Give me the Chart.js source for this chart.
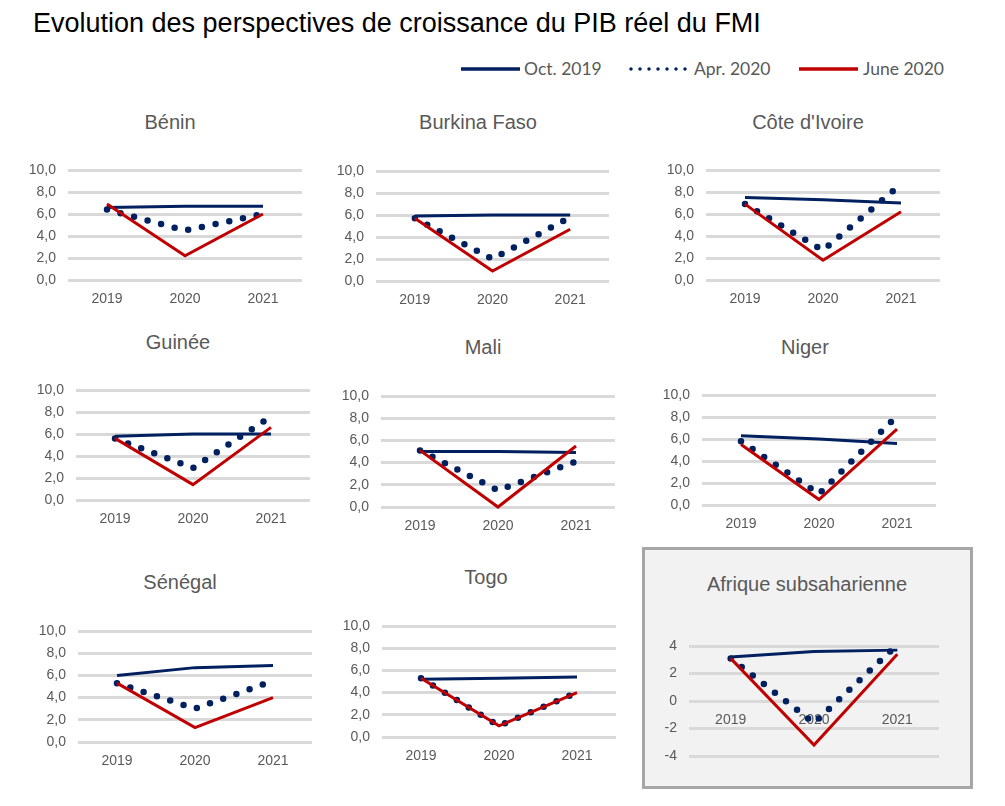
<!DOCTYPE html>
<html>
<head>
<meta charset="utf-8">
<title>Evolution des perspectives de croissance du PIB réel du FMI</title>
<script src="https://cdn.jsdelivr.net/npm/chart.js@4.4.1/dist/chart.umd.min.js"></script>
<style>
  body {
    margin: 0;
    width: 1005px;
    height: 806px;
    position: relative;
    overflow: hidden;
    background: #fff;
    font-family: 'Liberation Sans', Arial, sans-serif;
  }
  #main-title {
    position: absolute;
    left: 33px;
    top: 10px;
    font-size: 27px;
    line-height: 27px;
    color: #000;
    white-space: nowrap;
  }
  .legend-text {
    position: absolute;
    top: 59px;
    line-height: 20px;
    font-family: Lato, 'Open Sans', sans-serif;
    font-size: 17.5px;
    color: #595959;
    white-space: nowrap;
  }
  .legend-line {
    position: absolute;
    top: 62px;
  }
  .panel-title {
    position: absolute;
    font-size: 20px;
    line-height: 24px;
    color: #595959;
    white-space: nowrap;
    transform: translateX(-50%);
  }
  #ssa-box {
    position: absolute;
    left: 642px;
    top: 547px;
    width: 331px;
    height: 242px;
    box-sizing: border-box;
    border: 3px solid #a6a6a6;
    background: #f2f2f2;
  }
  canvas {
    position: absolute;
  }
</style>
</head>
<body>
<div id="main-title">Evolution des perspectives de croissance du PIB réel du FMI</div>

<svg class="legend-line" style="left:460px" width="62" height="14"><line x1="1" y1="7" x2="60" y2="7" stroke="#002060" stroke-width="3.5" /></svg>
<div class="legend-text" style="left:524px">Oct. 2019</div>
<svg class="legend-line" style="left:628px" width="62" height="14"><line x1="3" y1="7" x2="58" y2="7" stroke="#002060" stroke-width="3.5" stroke-linecap="round" stroke-dasharray="0 9" /></svg>
<div class="legend-text" style="left:694px">Apr. 2020</div>
<svg class="legend-line" style="left:799px" width="62" height="14"><line x1="0" y1="7" x2="59" y2="7" stroke="#c00000" stroke-width="3.5" /></svg>
<div class="legend-text" style="left:863px">June 2020</div>

<div id="ssa-box"></div>

<script>
// Real GDP growth forecasts (%), one row per panel
const years = ['2019', '2020', '2021'];
const countries = ['Bénin', 'Burkina Faso', "Côte d'Ivoire", 'Guinée', 'Mali', 'Niger', 'Sénégal', 'Togo', 'Afrique subsaharienne'];
const seriesNames = ['Oct. 2019', 'Apr. 2020', 'June 2020'];

const oct2019 = [
  [6.6, 6.7, 6.7],
  [5.9, 6.0, 6.0],
  [7.5, 7.3, 7.0],
  [5.8, 6.0, 6.0],
  [5.0, 5.0, 4.9],
  [6.3, 6.0, 5.6],
  [6.0, 6.7, 6.9],
  [5.2, 5.3, 5.4],
  [3.2, 3.6, 3.7]
];
const apr2020 = [
  [6.4, 4.5, 6.0],
  [5.7, 2.0, 5.8],
  [6.9, 2.7, 8.7],
  [5.6, 2.9, 7.6],
  [5.1, 1.5, 4.1],
  [5.8, 1.0, 8.1],
  [5.3, 3.0, 5.5],
  [5.3, 1.0, 4.0],
  [3.1, -1.6, 4.1]
];
const june2020 = [
  [6.9, 2.2, 6.0],
  [5.7, 0.9, 4.7],
  [6.9, 1.8, 6.2],
  [5.6, 1.4, 6.6],
  [5.1, 0.0, 5.5],
  [5.5, 0.5, 6.9],
  [5.3, 1.3, 4.0],
  [5.3, 1.0, 4.0],
  [3.1, -3.2, 3.4]
];
const countryScale = [0, 10];
const ssaScale = [-4, 4];

// plot-area box and title centre of each panel, in page pixels
const boxes = [
  { x0: 68,  x1: 302, top: 170, bottom: 280, tx: 170, ty: 122 },
  { x0: 376, x1: 609, top: 171, bottom: 281, tx: 478, ty: 122 },
  { x0: 706, x1: 940, top: 170, bottom: 280, tx: 808, ty: 122 },
  { x0: 76,  x1: 310, top: 390, bottom: 500, tx: 178, ty: 342 },
  { x0: 381, x1: 615, top: 396, bottom: 507, tx: 483, ty: 347 },
  { x0: 702, x1: 936, top: 395, bottom: 505, tx: 805, ty: 347 },
  { x0: 78,  x1: 312, top: 631, bottom: 742, tx: 180, ty: 582 },
  { x0: 382, x1: 616, top: 626, bottom: 737, tx: 486, ty: 577 },
  { x0: 689, x1: 939, top: 646, bottom: 756, tx: 807, ty: 584 }
];

Chart.defaults.font.family = "'Liberation Sans', Arial, sans-serif";
Chart.defaults.color = '#595959';

boxes.forEach((b, i) => {
  const ssa = i === 8;
  const axisW = 70;
  const padTop = 22; // more than the y labels' own top padding
  const padRight = 10;
  const left = b.x0 - axisW;
  const top = b.top - padTop;
  const width = b.x1 - b.x0 + axisW + padRight;
  const height = b.bottom - top + 40;

  const titleEl = document.createElement('div');
  titleEl.className = 'panel-title';
  titleEl.textContent = countries[i];
  titleEl.style.left = b.tx + 'px';
  titleEl.style.top = (b.ty - 12) + 'px';
  document.body.appendChild(titleEl);

  const canvas = document.createElement('canvas');
  canvas.width = width;
  canvas.height = height;
  canvas.style.left = left + 'px';
  canvas.style.top = top + 'px';
  canvas.style.width = width + 'px';
  canvas.style.height = height + 'px';
  document.body.appendChild(canvas);

  const range = ssa ? ssaScale : countryScale;

  new Chart(canvas, {
    type: 'line',
    data: {
      labels: years,
      datasets: [
        {
          label: seriesNames[0],
          data: oct2019[i],
          borderColor: '#002060',
          borderWidth: 3,
          order: 2,
          clip: false
        },
        {
          label: seriesNames[1],
          data: apr2020[i],
          borderColor: '#002060',
          borderWidth: 6.5,
          borderDash: [0, 14],
          borderCapStyle: 'round',
          order: 1,
          clip: false
        },
        {
          label: seriesNames[2],
          data: june2020[i],
          borderColor: '#c00000',
          borderWidth: 3,
          order: 0,
          clip: false
        }
      ]
    },
    options: {
      responsive: false,
      animation: false,
      devicePixelRatio: 1,
      elements: {
        point: { radius: 0 },
        line: { tension: 0 }
      },
      layout: {
        padding: { left: 0, right: padRight, top: padTop, bottom: ssa ? 40 : 6 }
      },
      plugins: {
        legend: { display: false },
        tooltip: { enabled: false },
        title: { display: false }
      },
      scales: {
        x: {
          type: 'category',
          offset: true,
          position: ssa ? { y: 0 } : 'bottom',
          grid: { display: false, drawTicks: false },
          border: { display: false },
          ticks: { padding: 11, font: { size: 14 }, maxRotation: 0 },
          afterFit: (s) => { if (!ssa) s.height = 34; }
        },
        y: {
          min: range[0],
          max: range[1],
          grid: { color: '#d9d9d9', lineWidth: 3, drawTicks: false },
          border: { display: false },
          ticks: {
            stepSize: 2,
            padding: 12,
            font: { size: 14 },
            callback: (v) => ssa ? String(v) : v.toFixed(1).replace('.', ',')
          },
          afterFit: (s) => { s.width = axisW; }
        }
      }
    }
  });
});
</script>
</body>
</html>
